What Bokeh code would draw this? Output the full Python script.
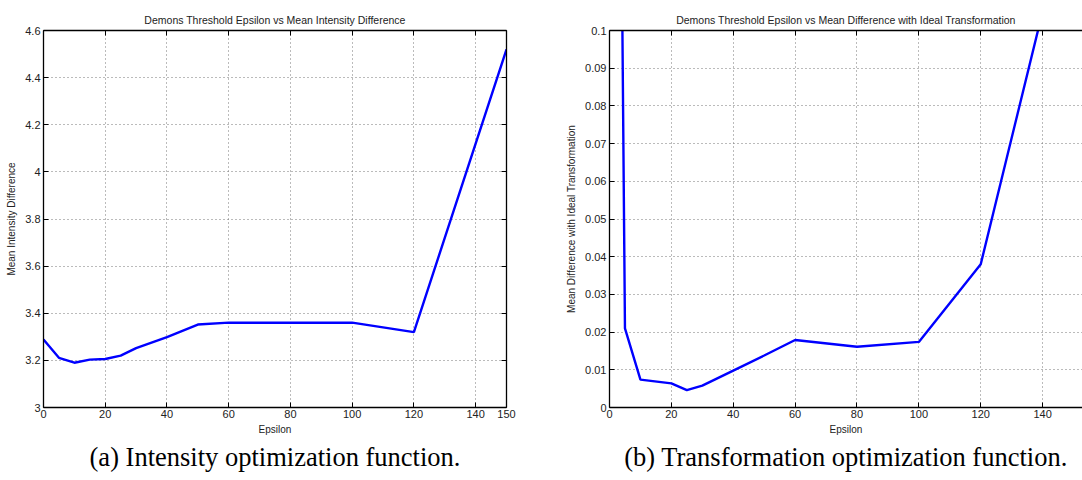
from bokeh.plotting import figure
from bokeh.layouts import row
from bokeh.models import LinearAxis, Range1d, FixedTicker, CustomJSTickFormatter, Title
from bokeh.embed import file_html
from bokeh.resources import INLINE

# Intensity optimisation: mean intensity difference per demons threshold epsilon
epsilon_a = [0, 5, 10, 15, 20, 25, 30, 40, 50, 60, 80, 100, 120, 150]
intensity_diff = [3.289, 3.211, 3.190, 3.203, 3.206, 3.220, 3.252, 3.299,
                  3.352, 3.360, 3.360, 3.360, 3.320, 4.520]

# Transformation optimisation: mean difference with the ideal transformation
epsilon_b = [0, 5, 10, 20, 25, 30, 40, 50, 60, 80, 100, 120, 140]
transform_diff = [0.5, 0.0210, 0.0074, 0.0064, 0.0046, 0.0058, 0.0098,
                  0.0138, 0.0179, 0.0161, 0.0174, 0.0380, 0.1050]

xticks_a = [0, 20, 40, 60, 80, 100, 120, 140, 150]
yticks_a = [3.0, 3.2, 3.4, 3.6, 3.8, 4.0, 4.2, 4.4, 4.6]
xticks_b = [0, 20, 40, 60, 80, 100, 120, 140]
yticks_b = [0.0, 0.01, 0.02, 0.03, 0.04, 0.05, 0.06, 0.07, 0.08, 0.09, 0.1]

SANS = "Liberation Sans"
SERIF = "Liberation Serif"
FMT = "return String(Number(tick.toFixed(4)));"
BLANK = "return '';"


def style_axis(ax, ticks, hide_labels=False):
    ax.ticker = FixedTicker(ticks=ticks)
    ax.major_tick_in = 5
    ax.major_tick_out = 0
    ax.minor_tick_in = 0
    ax.minor_tick_out = 0
    ax.axis_line_color = "black"
    ax.axis_line_width = 1.3
    ax.major_tick_line_color = "black"
    ax.major_label_text_font = SANS
    ax.major_label_text_color = "#222222"
    ax.major_label_text_font_size = "11px"
    if hide_labels:
        # box edge with inward ticks only
        ax.formatter = CustomJSTickFormatter(code=BLANK)
        ax.major_label_standoff = 0
    else:
        ax.formatter = CustomJSTickFormatter(code=FMT)
        ax.major_label_standoff = 3
    ax.axis_label_text_font = SANS
    ax.axis_label_text_font_size = "10px"
    ax.axis_label_text_font_style = "normal"
    ax.axis_label_text_color = "#222222"
    ax.axis_label_standoff = 5


def make_panel(title, ylabel, caption, xs, ys, xr, yr, xticks, yticks,
               border_left, border_right, box_right):
    p = figure(width=541, height=480, x_range=Range1d(*xr), y_range=Range1d(*yr),
               x_axis_label="Epsilon", y_axis_label=ylabel, title=title,
               output_backend="svg", toolbar_location=None,
               min_border_left=border_left, min_border_right=border_right,
               min_border_top=30, min_border_bottom=73)
    p.outline_line_color = None
    p.background_fill_color = "white"
    p.border_fill_color = "white"

    p.title.align = "center"
    p.title.text_font = SANS
    p.title.text_font_size = "10.5px"
    p.title.text_font_style = "normal"
    p.title.text_color = "#222222"
    p.title.standoff = 10

    style_axis(p.xaxis[0], xticks)
    style_axis(p.yaxis[0], yticks)
    p.xaxis[0].axis_label_standoff = 3
    p.xaxis[0].major_label_standoff = 2

    top = LinearAxis()
    style_axis(top, xticks, hide_labels=True)
    p.add_layout(top, "above")
    if box_right:
        right = LinearAxis()
        style_axis(right, yticks, hide_labels=True)
        p.add_layout(right, "right")

    for g, t in ((p.xgrid[0], xticks), (p.ygrid[0], yticks)):
        g.ticker = FixedTicker(ticks=t)
        g.grid_line_color = "#777777"
        g.grid_line_dash = "1 3"
        g.grid_line_width = 1

    p.line(xs, ys, line_color="#0000ff", line_width=2.4)

    p.add_layout(Title(text=caption, align="center", text_font=SERIF,
                       text_font_size="26.5px", text_font_style="normal",
                       text_color="black", standoff=4), "below")
    return p


left = make_panel("Demons Threshold Epsilon vs Mean Intensity Difference",
                  "Mean Intensity Difference",
                  "(a) Intensity optimization function.",
                  epsilon_a, intensity_diff, (0, 150), (3.0, 4.6),
                  xticks_a, yticks_a, 43, 35, True)

right = make_panel("Demons Threshold Epsilon vs Mean Difference with Ideal Transformation",
                   "Mean Difference with Ideal Transformation",
                   "(b) Transformation optimization function.",
                   epsilon_b, transform_diff, (0, 152.9), (0.0, 0.1),
                   xticks_b, yticks_b, 68, 0, False)

layout = row(left, right)
open("out.html", "w").write(file_html(layout, INLINE))
